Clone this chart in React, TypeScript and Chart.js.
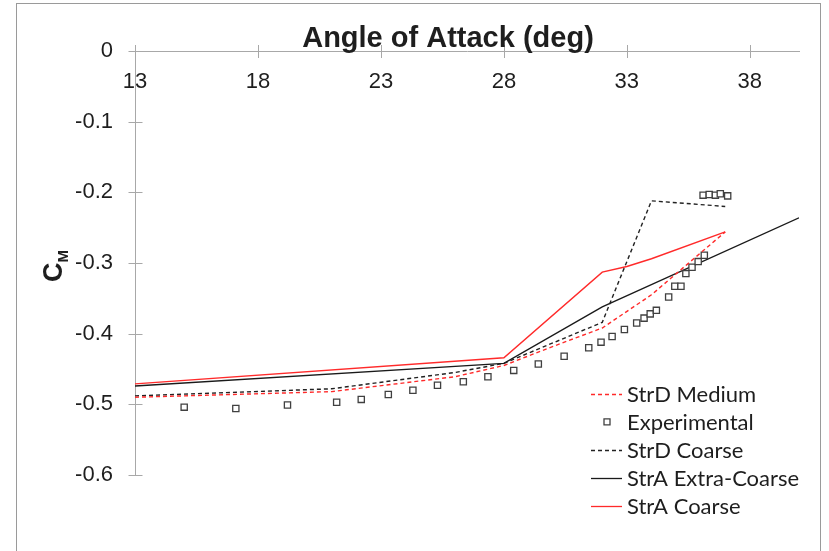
import React, { useEffect, useRef } from 'react';
import { Chart, registerables } from 'chart.js';

Chart.register(...registerables);

// ---- tick labels ----
const xTicks = [13, 18, 23, 28, 33, 38];
const yTicks = [0, -0.1, -0.2, -0.3, -0.4, -0.5, -0.6];

// ---- series ----
const seriesNames = ['StrD Medium', 'Experimental', 'StrD Coarse', 'StrA Extra-Coarse', 'StrA Coarse'];

const strDMediumX = [13, 21, 26, 28, 30, 32, 34, 37];
const strDMediumY = [-0.490, -0.482, -0.461, -0.445, -0.418, -0.392, -0.345, -0.256];

const experimentalX = [15.0, 17.1, 19.2, 21.2, 22.2, 23.3, 24.3, 25.3, 26.35, 27.35, 28.4, 29.4, 30.45, 31.45, 31.95, 32.4, 32.9, 33.4, 33.7, 33.95, 34.2, 34.7, 34.95, 35.2, 35.4, 35.65, 35.9, 36.15, 36.1, 36.35, 36.6, 36.8, 37.1];
const experimentalY = [-0.504, -0.506, -0.501, -0.497, -0.493, -0.486, -0.480, -0.473, -0.468, -0.461, -0.452, -0.443, -0.432, -0.420, -0.412, -0.404, -0.394, -0.385, -0.378, -0.372, -0.367, -0.348, -0.333, -0.333, -0.315, -0.306, -0.298, -0.289, -0.204, -0.203, -0.204, -0.202, -0.205];

const strDCoarseX = [13, 21, 26, 28, 32, 34, 37];
const strDCoarseY = [-0.488, -0.478, -0.455, -0.442, -0.384, -0.212, -0.220];

const strAExtraCoarseX = [13, 28, 32, 40];
const strAExtraCoarseY = [-0.474, -0.442, -0.362, -0.236];

const strACoarseX = [13, 28, 32, 33, 34, 37];
const strACoarseY = [-0.471, -0.434, -0.313, -0.305, -0.294, -0.256];

const pts = (xs: number[], ys: number[]) => xs.map((x, i) => ({ x, y: ys[i] }));

const AXIS = '#a8a8a8';
const TEXT = '#1e1e1e';
const RED = '#ff2a2a';
const FONT = "'Liberation Sans', Arial, sans-serif";

const crossTicks = {
  id: 'crossTicks',
  afterDraw(chart: any) {
    const { ctx, chartArea, scales } = chart;
    const xs = scales.x, ys = scales.y;
    ctx.save();
    ctx.strokeStyle = AXIS;
    ctx.lineWidth = 1;
    const y0 = Math.round(ys.getPixelForValue(0)) + 0.5;
    xs.ticks.forEach((t: any) => {
      const px = Math.round(xs.getPixelForValue(t.value)) + 0.5;
      ctx.beginPath();
      ctx.moveTo(px, y0 - 6.5);
      ctx.lineTo(px, y0 + 6.5);
      ctx.stroke();
    });
    const x0 = Math.round(chartArea.left) + 0.5;
    ys.ticks.forEach((t: any) => {
      const py = Math.round(ys.getPixelForValue(t.value)) + 0.5;
      ctx.beginPath();
      ctx.moveTo(x0 - 7, py);
      ctx.lineTo(x0 + 7, py);
      ctx.stroke();
    });
    ctx.restore();
  },
};

const titles = {
  id: 'titles',
  afterDraw(chart: any) {
    const { ctx, chartArea } = chart;
    ctx.save();
    ctx.fillStyle = TEXT;
    ctx.font = `bold 29px ${FONT}`;
    ctx.textAlign = 'center';
    ctx.textBaseline = 'alphabetic';
    ctx.fillText('Angle of Attack (deg)', (chartArea.left + chartArea.right) / 2 - 19, chartArea.top - 4);
    // y-axis title C_M
    ctx.translate(62, chartArea.top + 231);
    ctx.rotate(-Math.PI / 2);
    ctx.textAlign = 'left';
    ctx.font = `bold 27px ${FONT}`;
    ctx.fillText('C', 0, 0);
    const w = ctx.measureText('C').width;
    ctx.font = `bold 15px ${FONT}`;
    ctx.fillText('M', w, 6);
    ctx.restore();
  },
};

const sideLegend = {
  id: 'sideLegend',
  afterDraw(chart: any) {
    const { ctx, chartArea } = chart;
    const x0 = chartArea.right - 208;
    const tx = x0 + 36;
    let y = chartArea.bottom - 81;
    ctx.save();
    ctx.font = "22px Lato, 'Noto Sans', sans-serif";
    ctx.textBaseline = 'middle';
    ctx.textAlign = 'left';
    chart.data.datasets.forEach((ds: any) => {
      if (ds.showLine === false) {
        ctx.setLineDash([]);
        ctx.strokeStyle = ds.pointBorderColor;
        ctx.lineWidth = 1.3;
        ctx.fillStyle = '#fff';
        ctx.beginPath();
        ctx.rect(x0 + 13, y - 3, 6, 6);
        ctx.fill();
        ctx.stroke();
      } else {
        ctx.setLineDash(ds.borderDash || []);
        ctx.strokeStyle = ds.borderColor;
        ctx.lineWidth = 1.3;
        ctx.beginPath();
        ctx.moveTo(x0, Math.round(y) + 0.5);
        ctx.lineTo(x0 + 31, Math.round(y) + 0.5);
        ctx.stroke();
      }
      ctx.fillStyle = TEXT;
      ctx.fillText(ds.label, tx, y + 1);
      y += 27.9;
    });
    ctx.restore();
  },
};

export default function App() {
  const ref = useRef<HTMLCanvasElement | null>(null);

  useEffect(() => {
    if (!ref.current) return;
    const tickFont = { family: FONT, size: 22 };
    const chart = new Chart(ref.current, {
      type: 'line',
      data: {
        datasets: [
          {
            label: seriesNames[0],
            data: pts(strDMediumX, strDMediumY),
            borderColor: RED,
            borderWidth: 1.4,
            borderDash: [4, 3],
            pointRadius: 0,
            tension: 0,
          },
          {
            label: seriesNames[1],
            data: pts(experimentalX, experimentalY),
            showLine: false,
            pointStyle: 'rect',
            pointRadius: 4.4,
            pointBorderColor: '#404040',
            pointBackgroundColor: '#ffffff',
            pointBorderWidth: 1.3,
            borderColor: '#404040',
            backgroundColor: '#ffffff',
          },
          {
            label: seriesNames[2],
            data: pts(strDCoarseX, strDCoarseY),
            borderColor: '#222222',
            borderWidth: 1.4,
            borderDash: [4, 3],
            pointRadius: 0,
            tension: 0,
          },
          {
            label: seriesNames[3],
            data: pts(strAExtraCoarseX, strAExtraCoarseY),
            borderColor: '#1a1a1a',
            borderWidth: 1.4,
            pointRadius: 0,
            tension: 0,
          },
          {
            label: seriesNames[4],
            data: pts(strACoarseX, strACoarseY),
            borderColor: RED,
            borderWidth: 1.4,
            pointRadius: 0,
            tension: 0,
          },
        ],
      },
      options: {
        responsive: false,
        animation: false,
        events: [],
        layout: { padding: { left: 0, top: 51, right: 30, bottom: 76 } },
        plugins: {
          legend: { display: false },
          title: { display: false },
          tooltip: { enabled: false },
        },
        scales: {
          x: {
            type: 'linear',
            position: { y: 0 } as any,
            min: 13,
            max: 40,
            afterBuildTicks: (s: any) => {
              s.ticks = xTicks.map((v) => ({ value: v }));
            },
            grid: { display: false, drawTicks: false },
            border: { display: true, color: AXIS, width: 1 },
            ticks: {
              padding: 18,
              font: tickFont,
              color: TEXT,
              maxRotation: 0,
              autoSkip: false,
              callback: (v: any) => String(v),
            },
          },
          y: {
            type: 'linear',
            position: 'left',
            min: -0.6,
            max: 0,
            afterBuildTicks: (s: any) => {
              s.ticks = yTicks.map((v) => ({ value: v }));
            },
            afterFit: (s: any) => {
              s.width = 135;
            },
            grid: { display: false, drawTicks: false },
            border: { display: true, color: AXIS, width: 1 },
            ticks: {
              padding: 22,
              font: tickFont,
              color: TEXT,
              autoSkip: false,
              callback: (v: any) => (Number(v) === 0 ? '0' : Number(v).toFixed(1)),
            },
          },
        },
      } as any,
      plugins: [crossTicks, titles, sideLegend],
    });
    return () => chart.destroy();
  }, []);

  return (
    <div style={{ position: 'absolute', left: 0, top: 0, width: 829, height: 551, overflow: 'hidden', background: '#fff' }}>
      <div
        style={{
          position: 'absolute',
          left: 16,
          top: 3,
          width: 805,
          height: 600,
          border: '1px solid #9a9a9a',
          boxSizing: 'border-box',
        }}
      />
      <canvas ref={ref} width={829} height={551} style={{ position: 'absolute', left: 0, top: 0, width: 829, height: 551 }} />
    </div>
  );
}
